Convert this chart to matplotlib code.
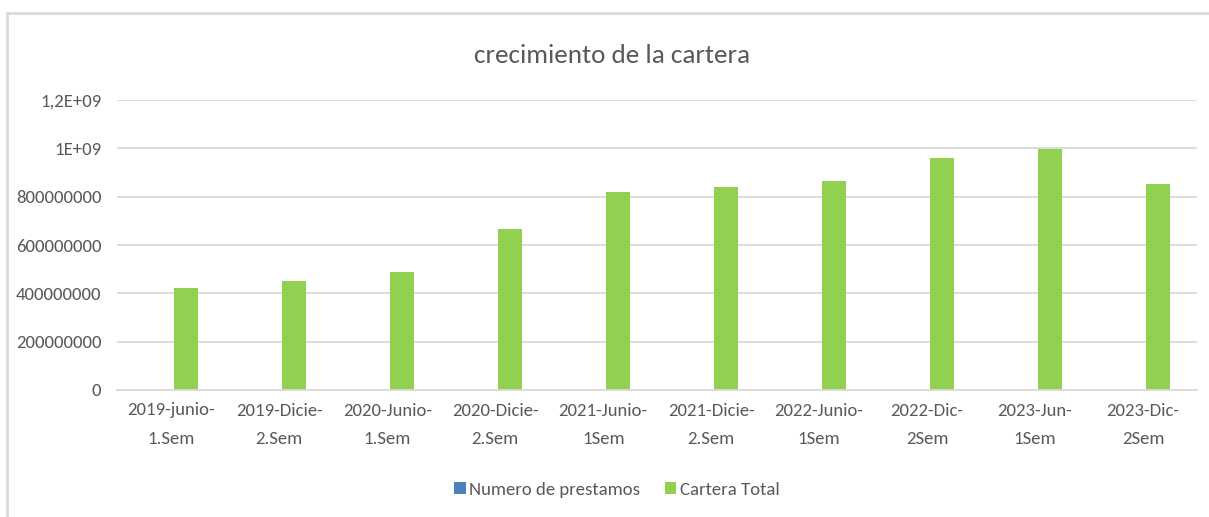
import matplotlib
matplotlib.use("Agg")
import matplotlib.pyplot as plt
import numpy as np
from matplotlib.patches import Rectangle

categories = ["2019-junio-\n1.Sem", "2019-Dicie-\n2.Sem", "2020-Junio-\n1.Sem", "2020-Dicie-\n2.Sem",
              "2021-Junio-\n1Sem", "2021-Dicie-\n2.Sem", "2022-Junio-\n1Sem", "2022-Dic-\n2Sem",
              "2023-Jun-\n1Sem", "2023-Dic-\n2Sem"]
numero_prestamos = [0, 0, 0, 0, 0, 0, 0, 0, 0, 0]
cartera_total = [421e6, 450e6, 487e6, 668e6, 818e6, 840e6, 863e6, 961e6, 999e6, 851e6]
ytick_values = [0, 2e8, 4e8, 6e8, 8e8, 1e9, 1.2e9]
ytick_labels = ["0", "200000000", "400000000", "600000000", "800000000", "1E+09", "1,2E+09"]

W, H = 1209, 517
fig = plt.figure(figsize=(W / 100, H / 100), dpi=100)
fam = ["Carlito", "DejaVu Sans"]
txt = "#595959"

ax = fig.add_axes([117.3 / W, 1 - 390 / H, (1197 - 117.3) / W, 290 / H])
x = np.arange(len(categories))
bw = 0.222
b1 = ax.bar(x + 0.139 - bw, numero_prestamos, width=bw, color="#4f81bd", label="Numero de prestamos")
b2 = ax.bar(x + 0.139, cartera_total, width=bw, color="#92d050", label="Cartera Total")

ax.set_xlim(-0.5, len(categories) - 0.5)
ax.set_ylim(0, 1.2e9)
ax.set_yticks(ytick_values)
ax.set_yticklabels(ytick_labels, family=fam, fontsize=13.5, color=txt)
ax.set_xticks(x)
ax.set_xticklabels(categories, family=fam, fontsize=13.5, color=txt, linespacing=2.0)
ax.tick_params(axis="both", length=0)
ax.tick_params(axis="y", pad=11.5)
ax.tick_params(axis="x", pad=9)
ax.grid(axis="y", color="#d9d9d9", linewidth=1.3)
ax.set_axisbelow(True)
for s in ["top", "right", "left"]:
    ax.spines[s].set_visible(False)
ax.spines["bottom"].set_color("#d9d9d9")
ax.spines["bottom"].set_linewidth(1.3)

fig.text(612 / W, 1 - 63 / H, "crecimiento de la cartera", ha="center", va="baseline",
         fontsize=19.5, color=txt, family=fam)

fig.legend(handles=[b1, b2], loc="center", bbox_to_anchor=(617 / W, 1 - 490 / H), ncol=2,
           frameon=False, prop={"family": fam, "size": 13.5}, labelcolor=txt,
           handlelength=0.6, handleheight=0.6, handletextpad=0.2, columnspacing=1.3)

fig.patches.append(Rectangle((7 / W, -0.1), 1.2, 1 - 13 / H + 0.1, transform=fig.transFigure,
                             fill=False, edgecolor="#d9d9d9", linewidth=2, zorder=-1))

fig.savefig("out.png", dpi=100)
